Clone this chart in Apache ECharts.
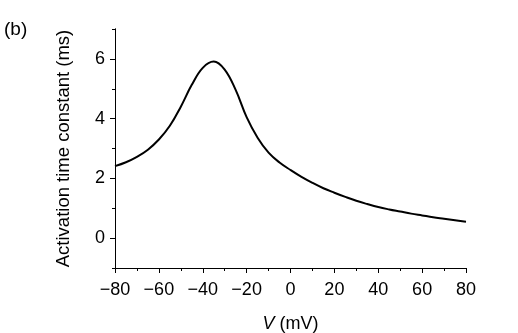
<!doctype html>
<html lang="en">
<head>
    <meta charset="UTF-8">
    <script src="https://cdn.jsdelivr.net/npm/echarts@6/dist/echarts.min.js"></script>
    <title>Activation time constant</title>
    <style>
        html, body { margin: 0; padding: 0; background: #fff; }
    </style>
</head>
<body>
<div id="main" style="width: 518px;height:333px;"></div>
<script>
    // membrane potential (mV) and activation time constant (ms)
    var voltages = [-80, -75, -70, -65, -60, -55, -50, -45, -40, -35, -30, -25, -20, -15, -10, -5,
        0, 5, 10, 15, 20, 25, 30, 35, 40, 45, 50, 55, 60, 65, 70, 75, 80];
    var tauValues = [2.41, 2.54, 2.72, 2.96, 3.30, 3.76, 4.40, 5.13, 5.70, 5.91, 5.64, 4.96, 4.05, 3.36, 2.86, 2.53,
        2.28, 2.05, 1.85, 1.67, 1.52, 1.38, 1.25, 1.14, 1.04, 0.96, 0.89, 0.82, 0.76, 0.70, 0.65, 0.60, 0.55];
    var yMajorTicks = [0, 2, 4, 6];
    var yMinorTicks = [-1, 1, 3, 5, 7];

    var points = [];
    for (var i = 0; i < voltages.length; i++) {
        points.push([voltages[i], tauValues[i]]);
    }

    var font = 'Liberation Sans';
    var myChart = echarts.init(document.getElementById('main'));
    var option = {
        animation: false,
        title: {
            text: '(b)',
            left: 4,
            top: 20,
            padding: 0,
            textStyle: {fontFamily: font, fontSize: 19, fontWeight: 'normal', color: '#000'}
        },
        grid: {left: 115, right: 52, top: 29, bottom: 65, outerBoundsMode: 'none'},
        xAxis: {
            type: 'value',
            min: -80,
            max: 80,
            interval: 20,
            name: '{i|V} (mV)',
            nameLocation: 'middle',
            nameGap: 47,
            nameTextStyle: {
                fontFamily: font, fontSize: 18, color: '#000',
                rich: {i: {fontFamily: font, fontSize: 18, fontStyle: 'italic', color: '#000'}}
            },
            axisLine: {onZero: false, lineStyle: {color: '#000', width: 1}},
            axisTick: {length: 5, lineStyle: {color: '#000'}},
            minorTick: {show: true, splitNumber: 2, length: 3, lineStyle: {color: '#000'}},
            axisLabel: {
                fontFamily: font, fontSize: 18, color: '#000', margin: 13,
                formatter: function (v) { return String(v).replace('-', '\u2212'); }
            },
            splitLine: {show: false}
        },
        yAxis: [
            {
                type: 'value',
                min: -1,
                max: 7,
                interval: 1,
                name: 'Activation time constant (ms)',
                nameLocation: 'middle',
                nameGap: 42,
                nameTextStyle: {fontFamily: font, fontSize: 18.5, color: '#000'},
                axisLine: {show: true, onZero: false, lineStyle: {color: '#000', width: 1}},
                axisTick: {show: true, length: 5, customValues: yMajorTicks, lineStyle: {color: '#000'}},
                axisLabel: {fontFamily: font, fontSize: 18, color: '#000', margin: 10, customValues: yMajorTicks},
                splitLine: {show: false}
            },
            {
                type: 'value',
                min: -1,
                max: 7,
                interval: 1,
                position: 'left',
                offset: 0,
                axisLine: {show: true, onZero: false, lineStyle: {color: '#000', width: 1}},
                axisTick: {show: true, length: 3, customValues: yMinorTicks, lineStyle: {color: '#000'}},
                axisLabel: {show: false},
                splitLine: {show: false}
            }
        ],
        series: [
            {
                type: 'line',
                data: points,
                smooth: 0.4,
                showSymbol: false,
                lineStyle: {color: '#000', width: 2}
            }
        ]
    };
    myChart.setOption(option);
</script>
</body>
</html>
